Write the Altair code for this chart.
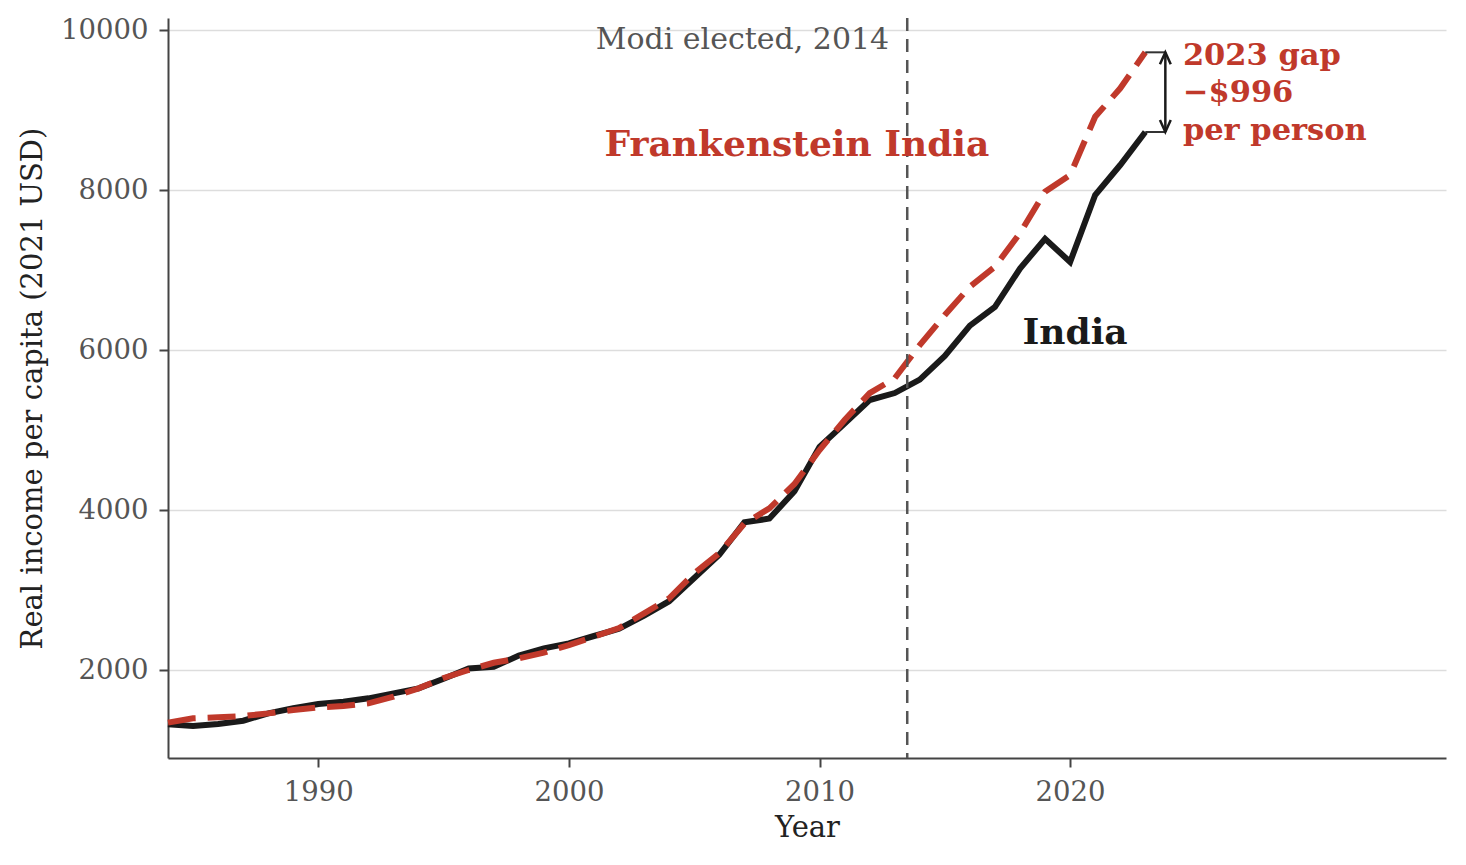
import altair as alt
import pandas as pd

# --- data ---
years = list(range(1984, 2024))
india = [1321, 1300, 1325, 1366, 1458, 1521, 1575, 1604, 1646, 1708,
         1771, 1890, 2020, 2040, 2180, 2270, 2333, 2425, 2515, 2680,
         2860, 3150, 3440, 3845, 3893, 4235, 4790, 5080, 5375, 5462,
         5630, 5925, 6305, 6540, 7018, 7390, 7100, 7937, 8312, 8725]
frankenstein = [1342, 1396, 1408, 1425, 1458, 1500, 1533, 1550, 1583, 1666,
                1771, 1900, 2000, 2090, 2146, 2217, 2312, 2417, 2525, 2708,
                2896, 3208, 3460, 3830, 4021, 4325, 4750, 5125, 5460, 5646,
                6062, 6437, 6791, 7041, 7462, 7979, 8187, 8916, 9271, 9721]

x_ticks = [1990, 2000, 2010, 2020]
y_ticks = [2000, 4000, 6000, 8000, 10000]
modi_year = 2013.5
gap_lines = ["2023 gap", "\u2212$996", "per person"]

RED = "#c0392b"
INK = "#1a1a1a"
GREY = "#555555"
FONT = "DejaVu Serif"

df = pd.DataFrame({"year": years, "india": india, "frank": frankenstein})

x_enc = alt.X("year:Q", title="Year",
              scale=alt.Scale(domain=[1984, 2035], nice=False, zero=False),
              axis=alt.Axis(values=x_ticks, format="d", grid=False))
y_scale = alt.Scale(domain=[900, 10150], nice=False, zero=False)

india_line = alt.Chart(df).mark_line(color=INK, strokeWidth=6).encode(
    x=x_enc,
    y=alt.Y("india:Q", title="Real income per capita (2021 USD)", scale=y_scale,
            axis=alt.Axis(values=y_ticks, format="d", grid=True)),
)

frank_line = alt.Chart(df).mark_line(
    color=RED, strokeWidth=6, strokeDash=[28, 12]
).encode(x="year:Q", y="frank:Q")

modi_rule = alt.Chart(pd.DataFrame({"year": [modi_year]})).mark_rule(
    color=GREY, strokeWidth=2.5, strokeDash=[13, 8]
).encode(x="year:Q")

# --- annotations ---
last = df.iloc[-1]
gap_x = last["year"] + 0.8

tick_df = pd.DataFrame({
    "x": [last["year"], last["year"]],
    "x2": [gap_x, gap_x],
    "y": [last["frank"], last["india"]],
})
gap_ticks = alt.Chart(tick_df).mark_rule(color="#333", strokeWidth=2).encode(
    x="x:Q", x2="x2:Q", y="y:Q"
)

shaft = alt.Chart(pd.DataFrame({"x": [gap_x], "y": [last["frank"]], "y2": [last["india"]]})).mark_rule(
    color=INK, strokeWidth=2.5
).encode(x="x:Q", y="y:Q", y2="y2:Q")

heads_df = pd.DataFrame({
    "x": [gap_x, gap_x],
    "y": [last["frank"], last["india"]],
    "shape": ["M -0.9 2 L 0 0 L 0.9 2", "M -0.9 -2 L 0 0 L 0.9 -2"],
})
heads = alt.Chart(heads_df).mark_point(
    filled=False, stroke=INK, strokeWidth=2.5, size=144, opacity=1
).encode(x="x:Q", y="y:Q", shape=alt.Shape("shape:N", scale=None))

modi_text = alt.Chart(pd.DataFrame({"x": [2012.78], "y": [9880], "t": ["Modi elected, 2014"]})).mark_text(
    align="right", baseline="middle", fontSize=30, color=GREY, font=FONT
).encode(x="x:Q", y="y:Q", text="t:N")

frank_text = alt.Chart(pd.DataFrame({"x": [2009.1], "y": [8562], "t": ["Frankenstein India"]})).mark_text(
    align="center", baseline="middle", fontSize=36, fontWeight="bold", color=RED, font=FONT
).encode(x="x:Q", y="y:Q", text="t:N")

india_text = alt.Chart(pd.DataFrame({"x": [2018.1], "y": [6212], "t": ["India"]})).mark_text(
    align="left", baseline="middle", fontSize=36, fontWeight="bold", color=INK, font=FONT
).encode(x="x:Q", y="y:Q", text="t:N")

gap_text = alt.Chart(pd.DataFrame({"x": [2024.5] * 3, "y": [9680, 9210, 8735], "t": gap_lines})).mark_text(
    align="left", baseline="middle", fontSize=30.5, fontWeight="bold", color=RED, font=FONT
).encode(x="x:Q", y="y:Q", text="t:N")

chart = alt.layer(
    india_line, frank_line, modi_rule, gap_ticks, shaft, heads,
    modi_text, frank_text, india_text, gap_text,
).properties(
    width=1278, height=740,
    autosize=alt.AutoSizeParams(type="none"),
    padding={"left": 160, "top": 10, "right": 12, "bottom": 90},
).configure_view(
    stroke=None
).configure_axis(
    labelFont=FONT, titleFont=FONT,
    labelFontSize=27.5, titleFontSize=29,
    labelColor=GREY, titleColor="#222222", titleFontWeight="normal",
    domainColor="#444444", domainWidth=2,
    tickColor="#444444", tickWidth=2, tickSize=9,
    gridColor="#dddddd", gridWidth=1.5,
    labelPadding=11,
).configure_axisY(
    titlePadding=13,
).configure_axisX(
    titlePadding=8,
)

chart.save("out.html", embed_options={"renderer": "svg", "actions": False})
